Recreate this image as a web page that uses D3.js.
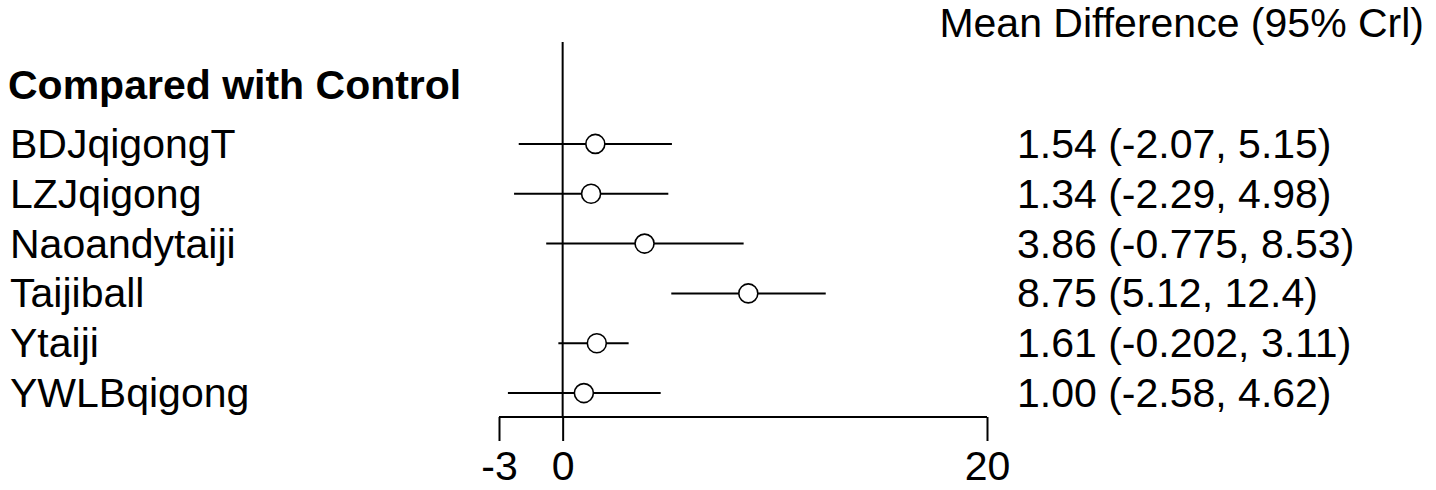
<!DOCTYPE html>
<html><head><meta charset="utf-8">
<script src="https://cdn.jsdelivr.net/npm/d3@7"></script>
<style>body{margin:0;background:#fff}svg{display:block}</style>
</head><body>
<svg id="c" width="1436" height="490"></svg>
<script>
const treatments = ["BDJqigongT","LZJqigong","Naoandytaiji","Taijiball","Ytaiji","YWLBqigong"];
const means = [1.54, 1.34, 3.86, 8.75, 1.61, 1.00];
const lower = [-2.07, -2.29, -0.775, 5.12, -0.202, -2.58];
const upper = [5.15, 4.98, 8.53, 12.4, 3.11, 4.62];
const labels = ["1.54 (-2.07, 5.15)","1.34 (-2.29, 4.98)","3.86 (-0.775, 8.53)","8.75 (5.12, 12.4)","1.61 (-0.202, 3.11)","1.00 (-2.58, 4.62)"];
const tickValues = [-3, 0, 20];
const header = "Compared with Control";
const colTitle = "Mean Difference (95% Crl)";

const svg = d3.select("#c");
const font = "Arial, 'Liberation Sans', sans-serif";
const fs = 41;
const x = d3.scaleLinear().domain([-3, 20]).range([499, 987]);
const y = d3.scaleBand().domain(treatments).range([119, 418]).paddingInner(0).paddingOuter(0);
const yc = d => y(d) + y.bandwidth()/2;

// zero line
svg.append("line").attr("x1", x(0)).attr("x2", x(0)).attr("y1", 42).attr("y2", 417)
  .attr("stroke", "#000").attr("stroke-width", 2);

// axis
const axis = d3.axisBottom(x).tickValues(tickValues).tickSize(24).tickPadding(10).tickFormat(d => String(d));
const ag = svg.append("g").attr("transform", "translate(0,417)").call(axis);
ag.select(".domain").remove();
ag.append("line").attr("x1", x(-3)).attr("x2", x(20)).attr("stroke", "#000").attr("stroke-width", 2);
ag.selectAll(".tick line").attr("stroke", "#000").attr("stroke-width", 2);
ag.selectAll(".tick text").attr("font-family", font).attr("font-size", fs).attr("fill", "#000").attr("dy", "0.71em");

// header texts
svg.append("text").attr("x", 8).attr("y", 99).attr("font-family", font).attr("font-size", fs)
  .attr("font-weight", "bold").attr("fill", "#000").text(header);
svg.append("text").attr("x", 1424).attr("y", 37).attr("text-anchor", "end").attr("font-family", font)
  .attr("font-size", fs).attr("fill", "#000").text(colTitle);

const rows = svg.selectAll("g.row").data(treatments).enter().append("g").attr("class", "row");
rows.append("text").attr("x", 10).attr("y", d => yc(d) + 14).attr("font-family", font).attr("font-size", fs)
  .attr("fill", "#000").text(d => d);
rows.append("line").attr("x1", (d,i) => x(lower[i])).attr("x2", (d,i) => x(upper[i]))
  .attr("y1", d => yc(d)).attr("y2", d => yc(d)).attr("stroke", "#000").attr("stroke-width", 2);
rows.append("circle").attr("cx", (d,i) => x(means[i])).attr("cy", d => yc(d)).attr("r", 9.5)
  .attr("fill", "#fff").attr("stroke", "#000").attr("stroke-width", 1.6);
rows.append("text").attr("x", 1017).attr("y", d => yc(d) + 14).attr("font-family", font).attr("font-size", fs)
  .attr("fill", "#000").text((d,i) => labels[i]);
</script>
</body></html>
